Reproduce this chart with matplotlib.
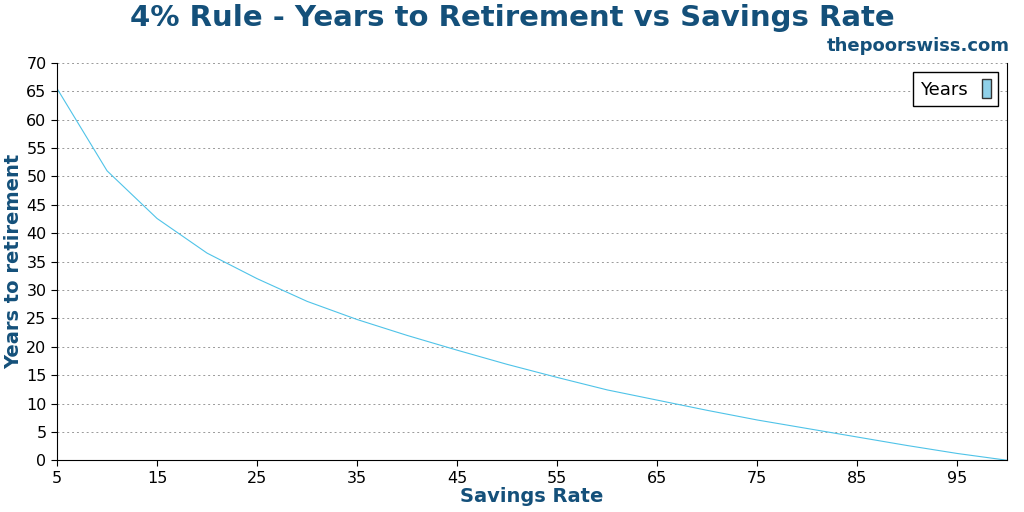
import matplotlib
matplotlib.use('Agg')
import matplotlib.pyplot as plt
from matplotlib.patches import Patch

# savings rate (%) and years to retirement
savings_rate = [5, 10, 15, 20, 25, 30, 35, 40, 45, 50, 55, 60, 65, 70, 75, 80, 85, 90, 95, 100]
years = [65.5, 51.0, 42.6, 36.5, 32.0, 28.0, 24.8, 22.0, 19.4, 16.9, 14.6, 12.4, 10.6, 8.8, 7.1, 5.6, 4.1, 2.6, 1.2, 0.0]

title_color = '#14507a'
line_color = '#4fc3e8'

fig = plt.figure(figsize=(10.24, 5.12), dpi=100)
ax = fig.add_axes([0.0557, 0.101, 0.928, 0.776])

ax.plot(savings_rate, years, color=line_color, linewidth=0.8)

ax.set_xlim(5, 100)
ax.set_ylim(0, 70)
ax.set_xticks(range(5, 100, 10))
ax.set_yticks(range(0, 71, 5))
ax.tick_params(labelsize=11.5, length=4)
ax.grid(axis='y', linestyle=(0, (2, 3)), color='#999999', linewidth=0.7)
ax.spines['top'].set_visible(False)

ax.set_xlabel('Savings Rate', fontsize=14, fontweight='bold', color=title_color, labelpad=1)
ax.set_ylabel('Years to retirement', fontsize=14, fontweight='bold', color=title_color, labelpad=2)

fig.text(0.5, 0.965, '4% Rule - Years to Retirement vs Savings Rate', ha='center', va='center',
         fontsize=21, fontweight='bold', color=title_color)
fig.text(0.986, 0.91, 'thepoorswiss.com', ha='right', va='center',
         fontsize=13, fontweight='bold', color=title_color)

leg = ax.legend(handles=[Patch(facecolor='#8fd0e8', edgecolor='#333333', label='Years')],
                loc='upper right', fontsize=13, fancybox=False, framealpha=1,
                edgecolor='black', markerfirst=False, handlelength=0.5, handleheight=1.2)

fig.savefig('out.png', dpi=100)
